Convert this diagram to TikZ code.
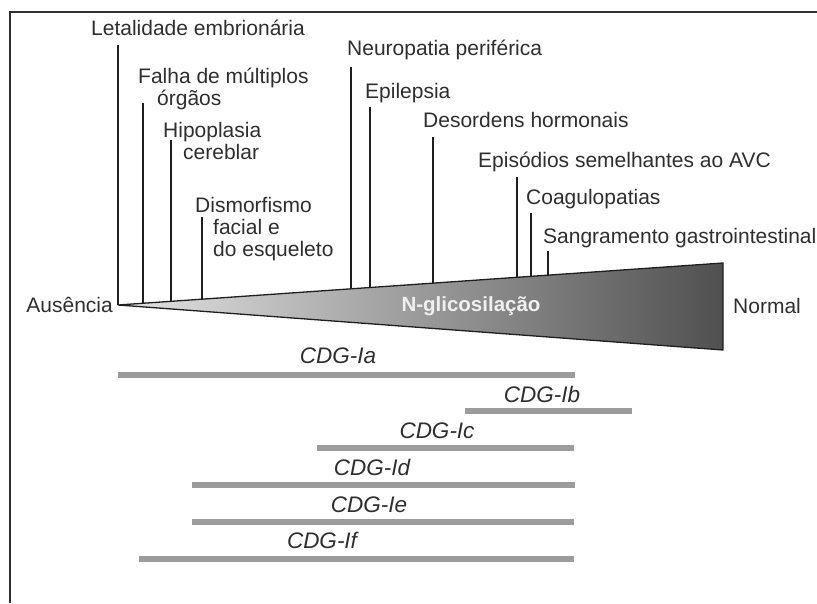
\documentclass[tikz,border=0pt]{standalone}
\usepackage{fontspec}
\setmainfont{Liberation Sans}
\usepackage{xcolor}
\definecolor{InkGrey}{HTML}{2E2E2E}
\definecolor{LineGrey}{HTML}{1F1F1F}
\definecolor{BarGrey}{HTML}{9C9C9C}
\definecolor{WedgeLight}{HTML}{E4E4E4}
\definecolor{WedgeDark}{HTML}{505050}
\usepackage{tikz}
\usetikzlibrary{calc}
\tikzstyle{effect} = [inner sep=0pt, anchor=base west, align=left, text=InkGrey, font=\fontsize{21}{22}\selectfont]
\tikzstyle{cdg} = [inner sep=0pt, anchor=base, text=InkGrey, font=\fontsize{22.5}{24}\selectfont\itshape]
\tikzstyle{tick} = [line width=1.7pt, color=LineGrey]
\tikzstyle{bar} = [line width=6pt, color=BarGrey]
\tikzstyle{frame} = [line width=1.4pt, color=InkGrey]

\begin{document}
\begin{tikzpicture}[x=1pt, y=-1pt]
        \useasboundingbox (0,0) rectangle (817,603);
        % Frame
        \draw [frame] (817,12) -- (10,12) -- (10,603);

        % Wedge
        \coordinate (apex) at (118,305);
        \coordinate (topRight) at (723,263);
        \coordinate (botRight) at (723,350);
        \shade [left color=WedgeLight, right color=WedgeDark] (apex) -- (topRight) -- (botRight) -- cycle;
        \draw [line width=1.3pt, LineGrey] (apex) -- (topRight) -- (botRight) -- cycle;
        \node [inner sep=0pt, font=\fontsize{20.5}{22}\selectfont\bfseries, text=white!94!black] (nglyc) at (471,306) {N-glicosilação};
        \node [effect, anchor=base east] (ausencia) at (113,312) {Ausência};
        \node [effect] (normal) at (733,313) {Normal};

        % Effects (multi-line ones sit on their last line)
        \node [effect] (letalidade) at (91,35) {Letalidade embrionária};
        \node [effect] (falha) at (138,105) {Falha de múltiplos\\\hspace*{19pt}órgãos};
        \node [effect] (hipoplasia) at (163,159) {Hipoplasia\\\hspace*{20pt}cereblar};
        \node [effect] (dismorfismo) at (195,256) {Dismorfismo\\\hspace*{18pt}facial e\\\hspace*{18pt}do esqueleto};
        \node [effect] (neuropatia) at (347,55) {Neuropatia periférica};
        \node [effect] (epilepsia) at (365,98) {Epilepsia};
        \node [effect] (desordens) at (423,127) {Desordens hormonais};
        \node [effect] (episodios) at (478,167) {Episódios semelhantes ao AVC};
        \node [effect] (coagulo) at (526,204) {Coagulopatias};
        \node [effect] (sangramento) at (543,243) {Sangramento gastrointestinal};

        % Ticks down to the wedge
        \coordinate (tLetal) at (118,45);
        \coordinate (tFalha) at (143,103);
        \coordinate (tHipo) at (171,140);
        \coordinate (tDismo) at (202,217);
        \coordinate (tNeuro) at (351,67);
        \coordinate (tEpi) at (370,107);
        \coordinate (tDesord) at (433,137);
        \coordinate (tEpis) at (517,177);
        \coordinate (tCoag) at (531,213);
        \coordinate (tSang) at (548,251);
        \coordinate (fFalha) at ($(apex)!0.0413!(topRight)$);
        \coordinate (fHipo) at ($(apex)!0.0876!(topRight)$);
        \coordinate (fDismo) at ($(apex)!0.1388!(topRight)$);
        \coordinate (fNeuro) at ($(apex)!0.3851!(topRight)$);
        \coordinate (fEpi) at ($(apex)!0.4165!(topRight)$);
        \coordinate (fDesord) at ($(apex)!0.5207!(topRight)$);
        \coordinate (fEpis) at ($(apex)!0.6595!(topRight)$);
        \coordinate (fCoag) at ($(apex)!0.6826!(topRight)$);
        \coordinate (fSang) at ($(apex)!0.7107!(topRight)$);
        \draw [tick] (tLetal) -- (apex);
        \draw [tick] (tFalha) -- (tFalha |- fFalha);
        \draw [tick] (tHipo) -- (tHipo |- fHipo);
        \draw [tick] (tDismo) -- (tDismo |- fDismo);
        \draw [tick] (tNeuro) -- (tNeuro |- fNeuro);
        \draw [tick] (tEpi) -- (tEpi |- fEpi);
        \draw [tick] (tDesord) -- (tDesord |- fDesord);
        \draw [tick] (tEpis) -- (tEpis |- fEpis);
        \draw [tick] (tCoag) -- (tCoag |- fCoag);
        \draw [tick] (tSang) -- (tSang |- fSang);

        % CDG types
        \coordinate (iaL) at (118,375); \coordinate (iaR) at (575,375);
        \coordinate (ibL) at (465,411); \coordinate (ibR) at (632,411);
        \coordinate (icL) at (317,448); \coordinate (icR) at (574,448);
        \coordinate (idL) at (192,485); \coordinate (idR) at (575,485);
        \coordinate (ieL) at (192,522); \coordinate (ieR) at (574,522);
        \coordinate (ifL) at (139,559); \coordinate (ifR) at (574,559);
        \draw [bar] (iaL) -- (iaR);
        \draw [bar] (ibL) -- (ibR);
        \draw [bar] (icL) -- (icR);
        \draw [bar] (idL) -- (idR);
        \draw [bar] (ieL) -- (ieR);
        \draw [bar] (ifL) -- (ifR);
        \node [cdg] (cdgIa) at (338,363) {CDG-Ia};
        \node [cdg] (cdgIb) at (542,402) {CDG-Ib};
        \node [cdg] (cdgIc) at (437,438) {CDG-Ic};
        \node [cdg] (cdgId) at (372,475) {CDG-Id};
        \node [cdg] (cdgIe) at (369,512) {CDG-Ie};
        \node [cdg] (cdgIf) at (322,548) {CDG-If};
    \end{tikzpicture}
\end{document}
